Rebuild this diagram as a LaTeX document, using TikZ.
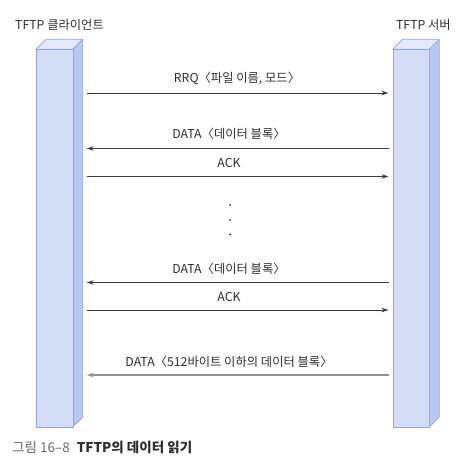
\documentclass[tikz,border=0pt]{standalone}
\usepackage{fontspec}
\setmainfont{Noto Sans CJK KR}
\usetikzlibrary{arrows.meta}
\definecolor{txt}{HTML}{2E2E2E}
\definecolor{face}{HTML}{D3DBF5}
\definecolor{side}{HTML}{B9C8F0}
\definecolor{topf}{HTML}{E6EAF8}
\definecolor{edge}{HTML}{8EAAE8}
\definecolor{arr}{HTML}{3A3A3A}
\definecolor{cap}{HTML}{6A6A6A}
\tikzset{
  x=1pt,y=-1pt,
  lbl/.style={font=\fontsize{12.3}{14}\selectfont, text=txt, inner sep=0pt},
  msg/.style={draw=arr, line width=0.9pt, -{Stealth[length=7pt,width=4.5pt]}},
  msgl/.style={draw=arr!55, line width=1.1pt, -{Stealth[length=7pt,width=4.5pt]}},
  facep/.style={fill=face, draw=edge, line width=0.8pt, line join=round},
  sidep/.style={fill=side, draw=edge, line width=0.8pt, line join=round},
  topp/.style={fill=topf, draw=edge, line width=0.8pt, line join=round},
  dotn/.style={circle, fill=txt, inner sep=0pt, minimum size=2pt}
}
\begin{document}
\begin{tikzpicture}
\useasboundingbox (0,0) rectangle (455,465);
% client bar
\path[sidep] (72.7,49.3) -- (82.7,39.3) -- (82.7,417) -- (72.7,427) -- cycle;
\path[topp] (36,49.3) -- (46,39.3) -- (82.7,39.3) -- (72.7,49.3) -- cycle;
\node[facep, rectangle, minimum width=36.7pt, minimum height=377.7pt, anchor=north west, inner sep=0pt] (client) at (36,49.3) {};
% server bar
\path[sidep] (429.3,49.3) -- (439.3,39.3) -- (439.3,417) -- (429.3,427) -- cycle;
\path[topp] (392.7,49.3) -- (402.7,39.3) -- (439.3,39.3) -- (429.3,49.3) -- cycle;
\node[facep, rectangle, minimum width=36.6pt, minimum height=377.7pt, anchor=north west, inner sep=0pt] (server) at (392.7,49.3) {};
% titles
\node[lbl, anchor=west] (tc) at (15,24.5) {TFTP 클라이언트};
\node[lbl, anchor=east] (ts) at (451,24.5) {TFTP 서버};
% endpoints
\foreach \n/\y in {1/93,2/148.5,3/176.5,4/282.5,5/310,6/375}{
  \coordinate (c\n) at (86.7,\y);
  \coordinate (s\n) at (388.5,\y);
}
\draw[msg] (c1) -- (s1);
\node[lbl] (l1) at (237,78) {RRQ〈파일 이름, 모드〉};
\draw[msg] (s2) -- (c2);
\node[lbl] (l2) at (229,134) {DATA〈데이터 블록〉};
\draw[msg] (c3) -- (s3);
\node[lbl] (l3) at (229,163) {ACK};
\node[dotn] (d1) at (230,205) {};
\node[dotn] (d2) at (230,220) {};
\node[dotn] (d3) at (230,234.3) {};
\draw[msg] (s4) -- (c4);
\node[lbl] (l4) at (229,269) {DATA〈데이터 블록〉};
\draw[msg] (c5) -- (s5);
\node[lbl] (l5) at (229,297) {ACK};
\draw[msgl] (s6) -- (c6);
\node[lbl] (l6) at (229,362) {DATA〈512바이트 이하의 데이터 블록〉};
% caption
\node[anchor=west, inner sep=0pt, font=\fontsize{13.5}{15}\selectfont] (capt) at (12,447.5) {\textcolor{cap}{그림 16–8}\hspace{7pt}\textcolor{txt}{\bfseries TFTP의 데이터 읽기}};
\end{tikzpicture}
\end{document}
